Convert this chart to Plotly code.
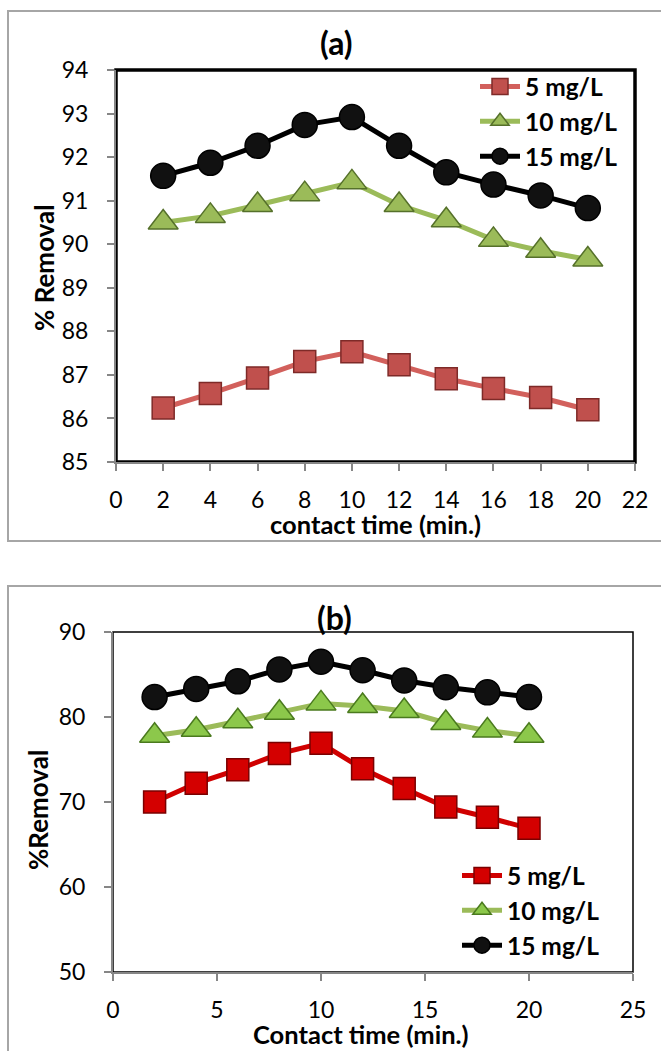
import plotly.graph_objects as go

# ---------------- data ----------------
time_a = [2, 4, 6, 8, 10, 12, 14, 16, 18, 20]
a_5mg = [86.24, 86.57, 86.93, 87.31, 87.53, 87.23, 86.91, 86.69, 86.48, 86.20]
a_10mg = [90.50, 90.65, 90.90, 91.15, 91.42, 90.90, 90.55, 90.10, 89.85, 89.65]
a_15mg = [91.57, 91.87, 92.26, 92.74, 92.92, 92.26, 91.65, 91.37, 91.12, 90.83]

time_b = [2, 4, 6, 8, 10, 12, 14, 16, 18, 20]
b_5mg = [70.0, 72.2, 73.8, 75.7, 76.9, 73.9, 71.6, 69.4, 68.2, 66.9]
b_10mg = [77.8, 78.5, 79.5, 80.5, 81.6, 81.3, 80.7, 79.3, 78.4, 77.8]
b_15mg = [82.35, 83.3, 84.2, 85.6, 86.5, 85.5, 84.3, 83.5, 82.9, 82.35]

series_names = ["5 mg/L", "10 mg/L", "15 mg/L"]

W, H = 661, 1051
FONT = "Lato"

def px(x):
    return x / W

def py(y):
    return 1 - y / H

fig = go.Figure()

styles_a = [
    dict(line="#D2605C", fill="#C0504D", edge="#7E2A28", symbol="square", size=22),
    dict(line="#9BBB59", fill="#9BBB59", edge="#55702A", symbol="triangle-up", size=26),
    dict(line="#000000", fill="#111111", edge="#000000", symbol="circle", size=25),
]
styles_b = [
    dict(line="#D00000", fill="#D40000", edge="#7A0000", symbol="square", size=22),
    dict(line="#9BBB59", fill="#8CC84B", edge="#4A7A1E", symbol="triangle-up", size=26),
    dict(line="#000000", fill="#111111", edge="#000000", symbol="circle", size=25),
]

for name, ys, st in zip(series_names, [a_5mg, a_10mg, a_15mg], styles_a):
    fig.add_trace(go.Scatter(
        x=time_a, y=ys, name=name, mode="lines+markers",
        line=dict(color=st["line"], width=5),
        marker=dict(symbol=st["symbol"], size=st["size"], color=st["fill"],
                    line=dict(color=st["edge"], width=1.5)),
        xaxis="x", yaxis="y", legend="legend",
    ))

for name, ys, st in zip(series_names, [b_5mg, b_10mg, b_15mg], styles_b):
    fig.add_trace(go.Scatter(
        x=time_b, y=ys, name=name, mode="lines+markers",
        line=dict(color=st["line"], width=5),
        marker=dict(symbol=st["symbol"], size=st["size"], color=st["fill"],
                    line=dict(color=st["edge"], width=1.5)),
        xaxis="x2", yaxis="y2", legend="legend2",
    ))

axis_common = dict(
    showgrid=False, zeroline=False, showline=True, linecolor="#868686", linewidth=2,
    ticks="outside", ticklen=7, tickwidth=2, tickcolor="#868686", automargin=False,
    tickfont=dict(family=FONT, size=23, color="#000000"),
)

legend_font = dict(family=FONT, size=24.5, color="#000", weight="bold")

fig.update_layout(
    width=W, height=H, margin=dict(l=0, r=0, t=0, b=0, autoexpand=False),
    paper_bgcolor="white", plot_bgcolor="white", showlegend=True,
    xaxis=dict(domain=[px(116), px(635)], range=[0, 22], dtick=2, anchor="y",
               ticklabelstandoff=9, **axis_common),
    yaxis=dict(domain=[py(462), py(70)], range=[85, 94], dtick=1, anchor="x",
               ticklabelstandoff=14, **axis_common),
    xaxis2=dict(domain=[px(113), px(633)], range=[0, 25], dtick=5, anchor="y2",
                ticklabelstandoff=9, **axis_common),
    yaxis2=dict(domain=[py(972), py(632)], range=[50, 90], dtick=10, anchor="x2",
                ticklabelstandoff=14, **axis_common),
    legend=dict(x=px(475), y=py(64), xanchor="left", yanchor="top",
                bgcolor="rgba(0,0,0,0)", font=legend_font,
                itemwidth=40, tracegroupgap=0),
    legend2=dict(x=px(457), y=py(853), xanchor="left", yanchor="top",
                 bgcolor="rgba(0,0,0,0)", font=legend_font,
                 itemwidth=40, tracegroupgap=0),
)

shapes = [
    dict(type="rect", xref="paper", yref="paper", x0=px(8), x1=1.02, y0=py(541), y1=py(11),
         line=dict(color="#A6A6A6", width=2), layer="below"),
    dict(type="rect", xref="paper", yref="paper", x0=px(8), x1=1.02, y0=-0.02, y1=py(586),
         line=dict(color="#A6A6A6", width=2), layer="below"),
    dict(type="rect", xref="x domain", yref="y domain", x0=0, x1=1, y0=0, y1=1,
         line=dict(color="#000000", width=3.5), layer="below"),
    dict(type="rect", xref="x2 domain", yref="y2 domain", x0=0, x1=1, y0=0, y1=1,
         line=dict(color="#000000", width=1.5), layer="below"),
]
fig.update_layout(shapes=shapes)

ann = [
    dict(text="<b>(a)</b>", x=px(336), y=py(42), font=dict(size=32)),
    dict(text="<b>(b)</b>", x=px(335), y=py(617), font=dict(size=32)),
    dict(text="<b>contact time (min.)</b>", x=px(375), y=py(524), font=dict(size=25.5)),
    dict(text="<b>Contact time (min.)</b>", x=px(361), y=py(1034), font=dict(size=25.5)),
    dict(text="<b>% Removal</b>", x=px(44), y=py(268), font=dict(size=26), textangle=-90),
    dict(text="<b>%Removal</b>", x=px(38), y=py(810), font=dict(size=26), textangle=-90),
]
for a in ann:
    a.update(xref="paper", yref="paper", showarrow=False, xanchor="center", yanchor="middle")
    a["font"].update(family=FONT, color="#000000")
fig.update_layout(annotations=ann)

fig.write_html("out.html")
